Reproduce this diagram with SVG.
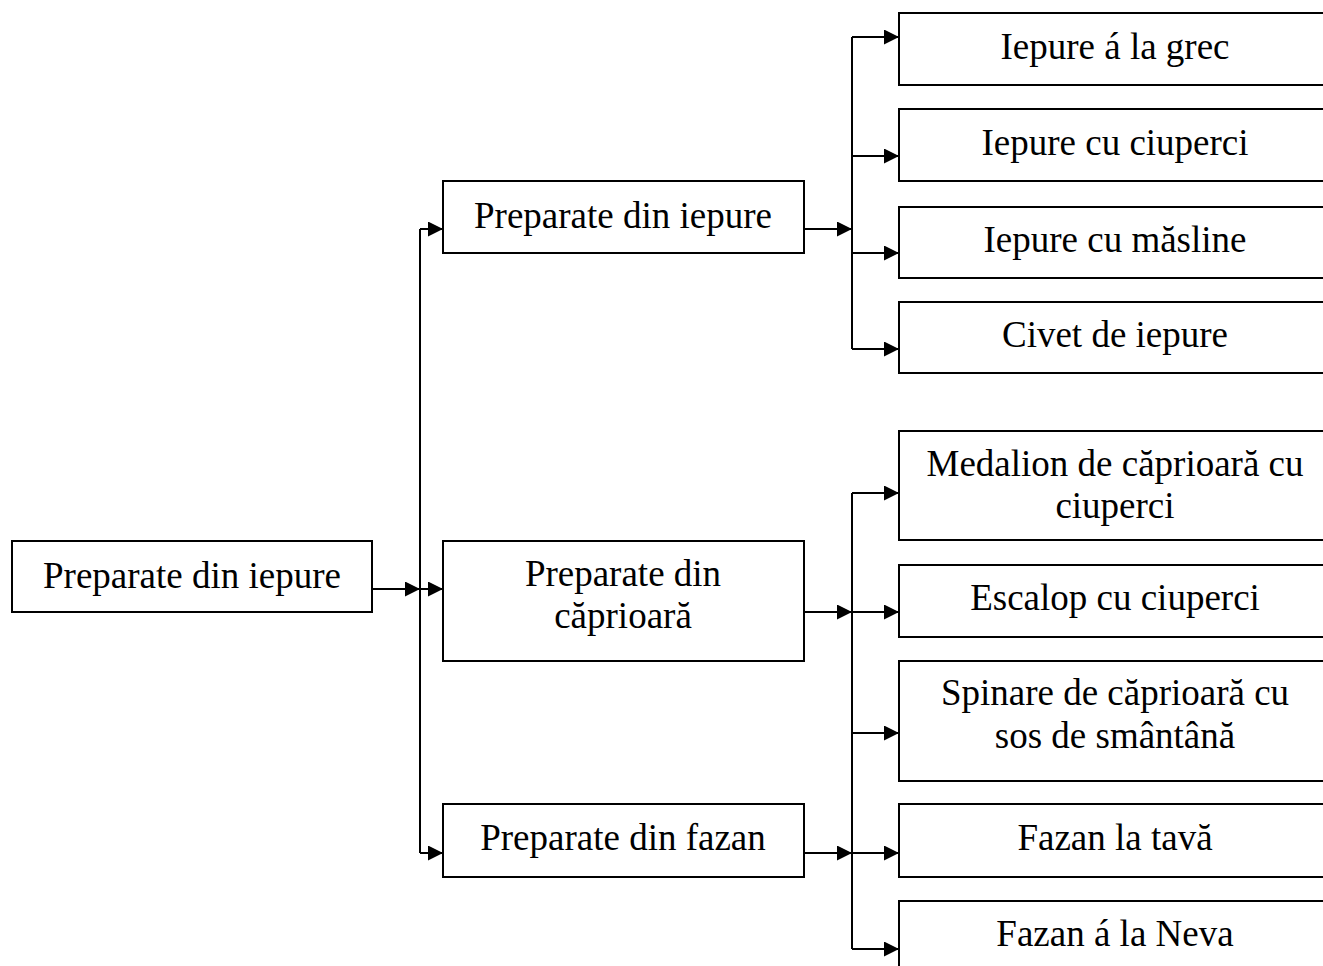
<svg xmlns="http://www.w3.org/2000/svg" width="1323" height="966" viewBox="0 0 1323 966">
<style>
.box{fill:#fff;stroke:#000;stroke-width:2}
.lbl{font-family:"Liberation Serif","Times New Roman",serif;font-size:37px;fill:#000;text-anchor:middle}
.ln{fill:none;stroke:#000;stroke-width:2}
</style>
<defs>
<marker id="ah" markerUnits="userSpaceOnUse" markerWidth="16" markerHeight="16" refX="15" refY="7.5" orient="auto">
<path d="M0,0 L15,7.5 L0,15 z" fill="#000"/>
</marker>
</defs>
<rect width="1323" height="966" fill="#fff"/>
<g id="connectors">
<path class="ln" d="M372,589 H420" marker-end="url(#ah)"/>
<path class="ln" d="M420,229 V853"/>
<path class="ln" d="M420,229 H443" marker-end="url(#ah)"/>
<path class="ln" d="M420,589 H443" marker-end="url(#ah)"/>
<path class="ln" d="M420,853 H443" marker-end="url(#ah)"/>
<path class="ln" d="M804,229 H852" marker-end="url(#ah)"/>
<path class="ln" d="M852,37 V349"/>
<path class="ln" d="M852,37 H899" marker-end="url(#ah)"/>
<path class="ln" d="M852,156 H899" marker-end="url(#ah)"/>
<path class="ln" d="M852,253 H899" marker-end="url(#ah)"/>
<path class="ln" d="M852,349 H899" marker-end="url(#ah)"/>
<path class="ln" d="M804,612 H852" marker-end="url(#ah)"/>
<path class="ln" d="M804,853 H852" marker-end="url(#ah)"/>
<path class="ln" d="M852,493 V949"/>
<path class="ln" d="M852,493 H899" marker-end="url(#ah)"/>
<path class="ln" d="M852,612 H899" marker-end="url(#ah)"/>
<path class="ln" d="M852,733 H899" marker-end="url(#ah)"/>
<path class="ln" d="M852,853 H899" marker-end="url(#ah)"/>
<path class="ln" d="M852,949 H899" marker-end="url(#ah)"/>
</g>
<g id="root"><rect class="box" x="12" y="541" width="360" height="71"/><text class="lbl" x="192" y="588">Preparate din iepure</text></g>
<g id="mid-iepure"><rect class="box" x="443" y="181" width="361" height="72"/><text class="lbl" x="623" y="228">Preparate din iepure</text></g>
<g id="mid-caprioara"><rect class="box" x="443" y="541" width="361" height="120"/><text class="lbl" x="623" y="586">Preparate din</text><text class="lbl" x="623" y="628">căprioară</text></g>
<g id="mid-fazan"><rect class="box" x="443" y="804" width="361" height="73"/><text class="lbl" x="623" y="850">Preparate din fazan</text></g>
<g id="leaf1"><rect class="box" x="899" y="13" width="440" height="72"/><text class="lbl" x="1115" y="59">Iepure á la grec</text></g>
<g id="leaf2"><rect class="box" x="899" y="109" width="440" height="72"/><text class="lbl" x="1115" y="155">Iepure cu ciuperci</text></g>
<g id="leaf3"><rect class="box" x="899" y="207" width="440" height="71"/><text class="lbl" x="1115" y="252">Iepure cu măsline</text></g>
<g id="leaf4"><rect class="box" x="899" y="302" width="440" height="71"/><text class="lbl" x="1115" y="347">Civet de iepure</text></g>
<g id="leaf5"><rect class="box" x="899" y="431" width="440" height="109"/><text class="lbl" x="1115" y="476">Medalion de căprioară cu</text><text class="lbl" x="1115" y="518">ciuperci</text></g>
<g id="leaf6"><rect class="box" x="899" y="565" width="440" height="72"/><text class="lbl" x="1115" y="610">Escalop cu ciuperci</text></g>
<g id="leaf7"><rect class="box" x="899" y="661" width="440" height="120"/><text class="lbl" x="1115" y="705">Spinare de căprioară cu</text><text class="lbl" x="1115" y="748">sos de smântână</text></g>
<g id="leaf8"><rect class="box" x="899" y="804" width="440" height="73"/><text class="lbl" x="1115" y="850">Fazan la tavă</text></g>
<g id="leaf9"><rect class="box" x="899" y="901" width="440" height="80"/><text class="lbl" x="1115" y="946">Fazan á la Neva</text></g>
</svg>
